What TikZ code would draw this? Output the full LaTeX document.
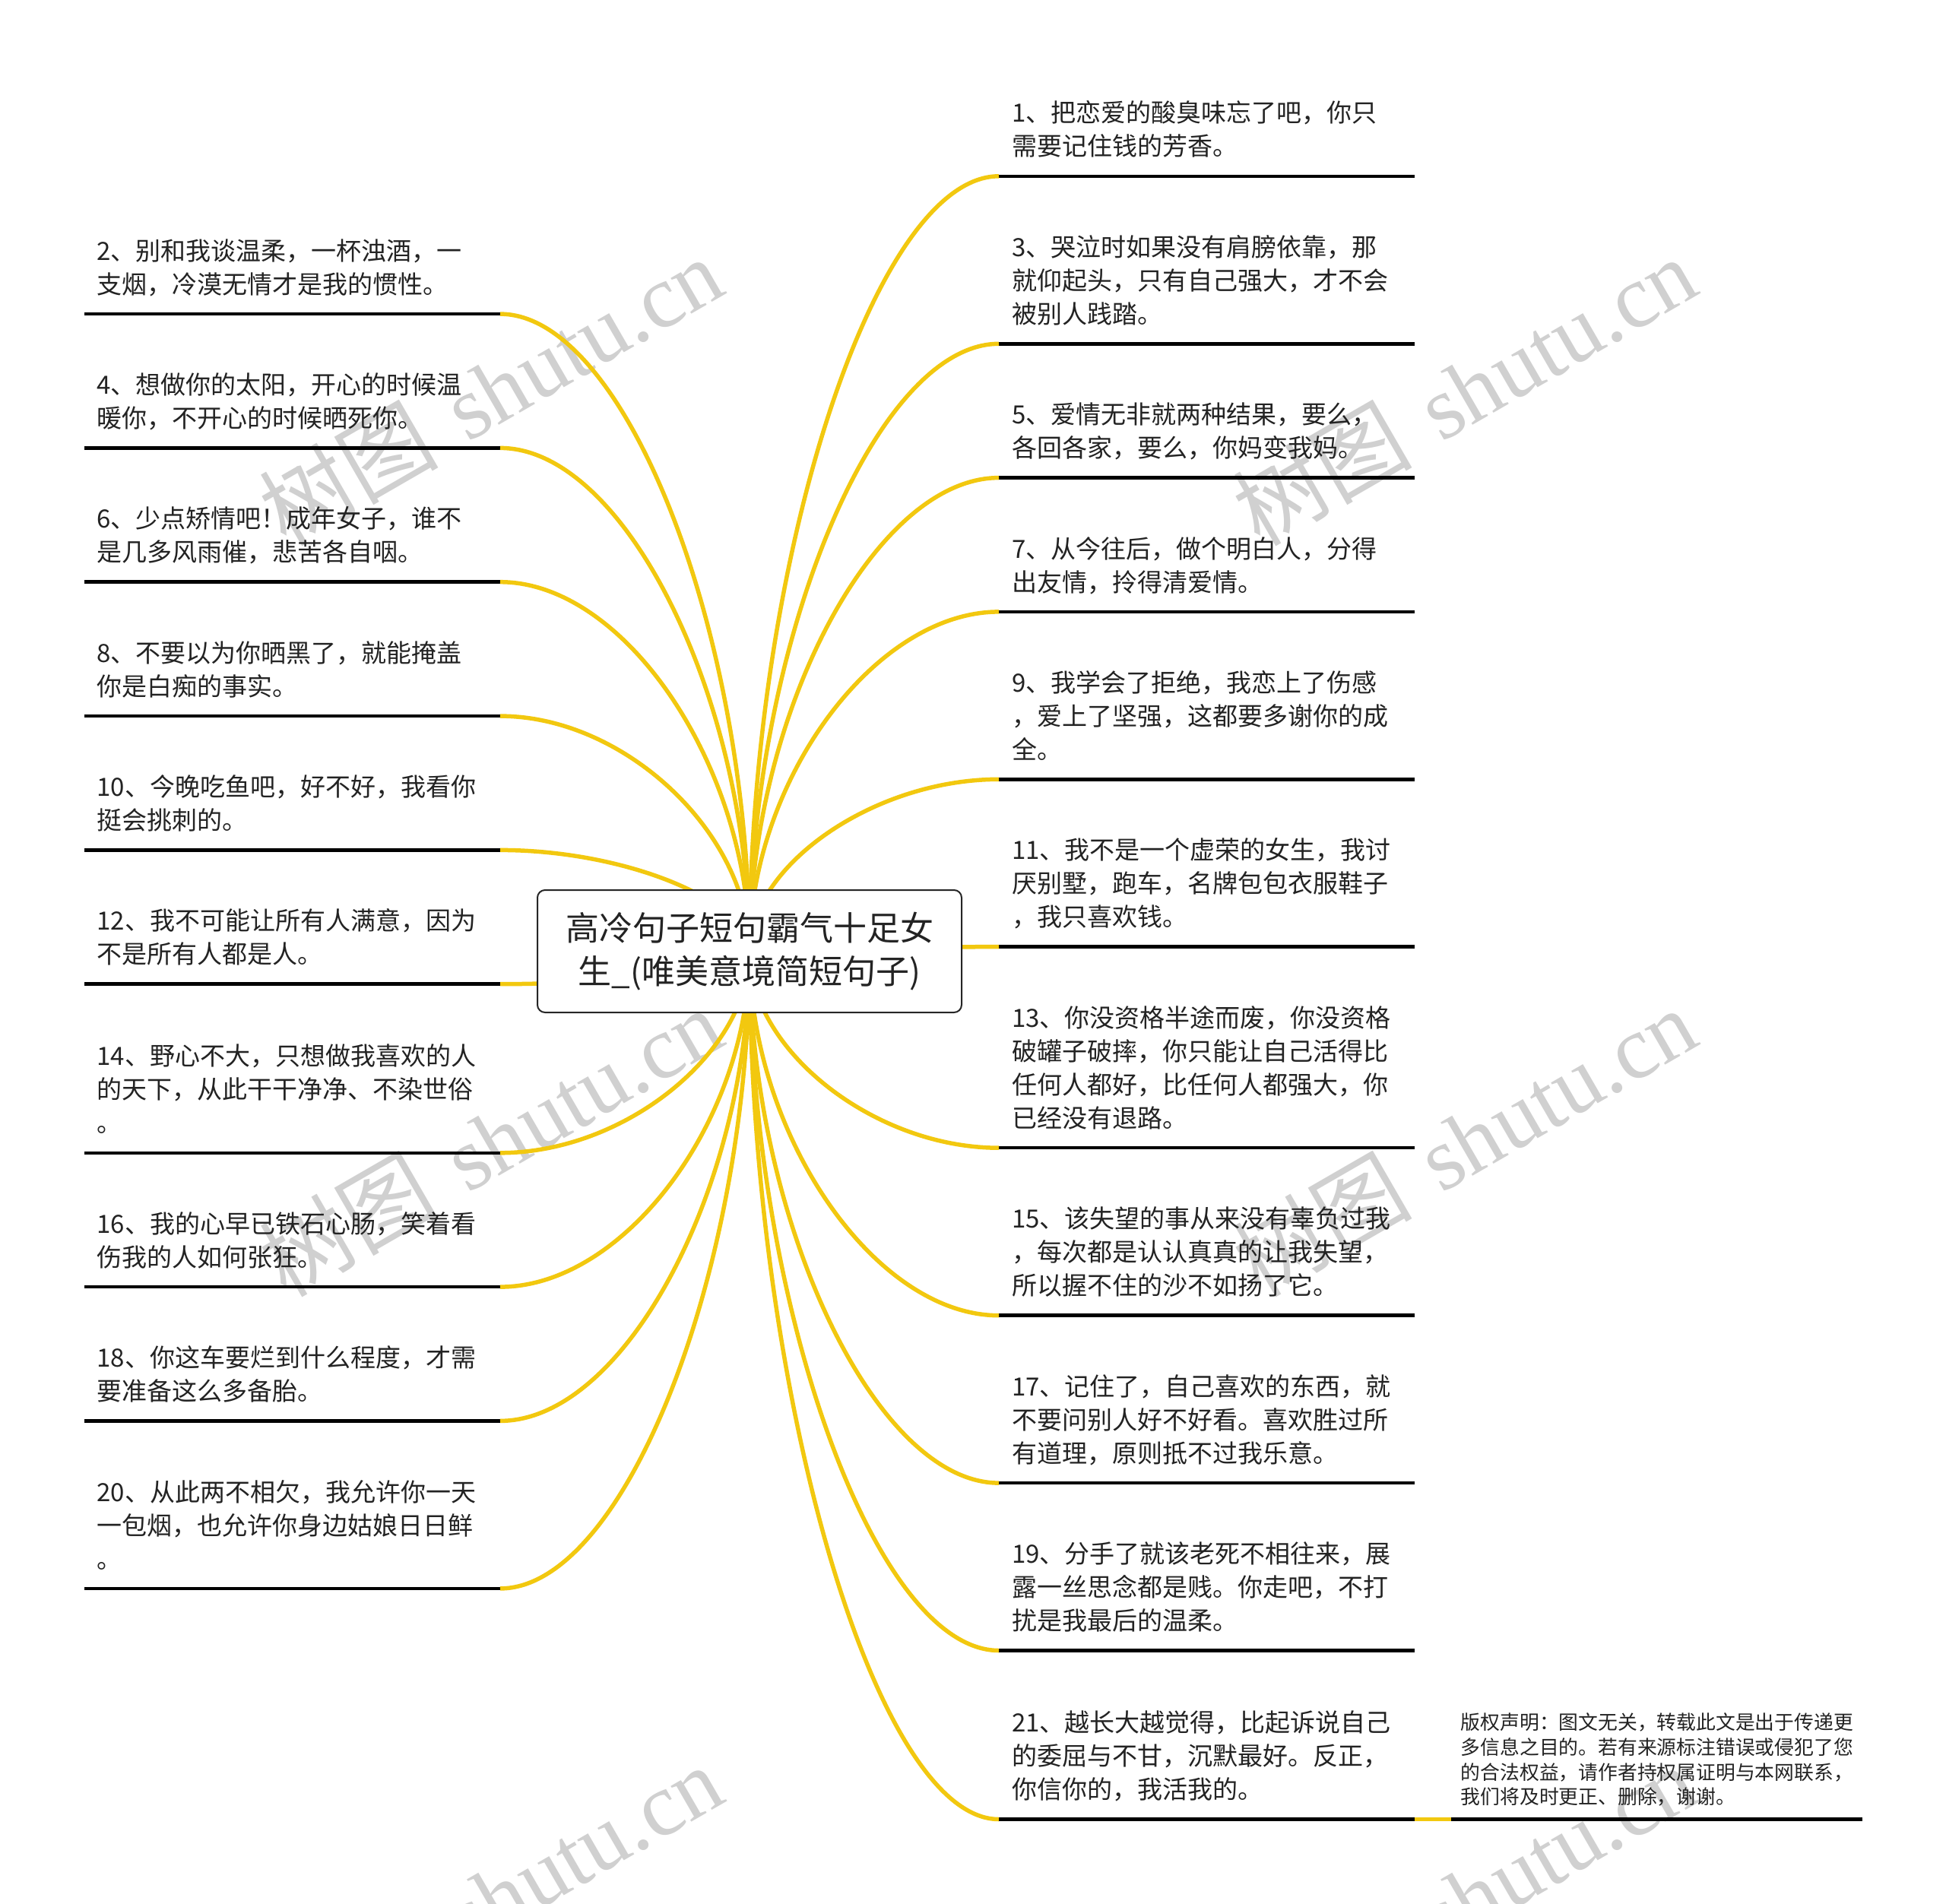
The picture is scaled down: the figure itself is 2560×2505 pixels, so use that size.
\documentclass[tikz,border=0pt]{standalone}
\usepackage{fontspec}
\setmainfont{Noto Sans CJK SC}
\newfontfamily\wmlat{Liberation Serif}
\definecolor{branch}{RGB}{242,200,15}
\definecolor{txt}{RGB}{35,35,35}
\definecolor{wm}{RGB}{208,208,208}
\newcommand{\itemtext}[1]{\parbox[b]{700pt}{\raggedright\fontsize{33}{44}\selectfont #1}}
\tikzset{
  conn/.style={draw=branch, line width=5.5pt},
  under/.style={draw=black, line width=4.5pt},
  itemnode/.style={anchor=south west, inner sep=0pt, text depth=0pt, text=txt},
  rootbox/.style={draw=black!85, line width=2pt, rounded corners=10pt, fill=white,
    minimum width=558pt, minimum height=161pt, inner sep=0pt, align=center, text=txt,
    font=\fontsize{44}{57}\selectfont},
  wmark/.style={text=wm, rotate=30, inner sep=0pt, font=\fontsize{118}{118}\selectfont}
}
\newcommand{\ritem}[3]{%
  \node[itemnode] (#1) at (1331,{#2-26.7}) {\itemtext{#3}};
  \coordinate (#1e) at (1314,#2);
  \coordinate (#1f) at (1861,#2);
  \draw[under] (#1e) -- (#1f);
  \pgfmathsetmacro\cdy{(#2-1252)/2}
  \draw[conn] (cc) .. controls +(0,\cdy) and +(-164,0) .. (#1e);
}
\newcommand{\litem}[3]{%
  \node[itemnode] (#1) at (127.4,{#2-26.7}) {\itemtext{#3}};
  \coordinate (#1e) at (658,#2);
  \coordinate (#1f) at (111,#2);
  \draw[under] (#1e) -- (#1f);
  \pgfmathsetmacro\cdy{(#2-1252)/2}
  \draw[conn] (cc) .. controls +(0,\cdy) and +(164,0) .. (#1e);
}
\begin{document}
\begin{tikzpicture}[x=1pt,y=-1pt]
\useasboundingbox[fill=white] (0,0) rectangle (2560,2505);
% watermarks
\foreach \wx/\wy [count=\i] in {645/514,1926/514,645/1502,1926/1502,645/2498,1926/2498}{
  \node[wmark] (wm\i) at (\wx,\wy) {树图\hspace{40pt}{\wmlat shutu.cn}};
}
\coordinate (cc) at (986,1252);
% right side
\ritem{r1}{231.8}{1、把恋爱的酸臭味忘了吧，你只\\需要记住钱的芳香。}
\ritem{r3}{452.3}{3、哭泣时如果没有肩膀依靠，那\\就仰起头，只有自己强大，才不会\\被别人践踏。}
\ritem{r5}{628.6}{5、爱情无非就两种结果，要么，\\各回各家，要么，你妈变我妈。}
\ritem{r7}{804.9}{7、从今往后，做个明白人，分得\\出友情，拎得清爱情。}
\ritem{r9}{1025.3}{9、我学会了拒绝，我恋上了伤感\\，爱上了坚强，这都要多谢你的成\\全。}
\ritem{r11}{1245.7}{11、我不是一个虚荣的女生，我讨\\厌别墅，跑车，名牌包包衣服鞋子\\，我只喜欢钱。}
\ritem{r13}{1510.2}{13、你没资格半途而废，你没资格\\破罐子破摔，你只能让自己活得比\\任何人都好，比任何人都强大，你\\已经没有退路。}
\ritem{r15}{1730.7}{15、该失望的事从来没有辜负过我\\，每次都是认认真真的让我失望，\\所以握不住的沙不如扬了它。}
\ritem{r17}{1951.1}{17、记住了，自己喜欢的东西，就\\不要问别人好不好看。喜欢胜过所\\有道理，原则抵不过我乐意。}
\ritem{r19}{2171.5}{19、分手了就该老死不相往来，展\\露一丝思念都是贱。你走吧，不打\\扰是我最后的温柔。}
\ritem{r21}{2393.5}{21、越长大越觉得，比起诉说自己\\的委屈与不甘，沉默最好。反正，\\你信你的，我活我的。}
% left side
\litem{l2}{413.1}{2、别和我谈温柔，一杯浊酒，一\\支烟，冷漠无情才是我的惯性。}
\litem{l4}{589.4}{4、想做你的太阳，开心的时候温\\暖你，不开心的时候晒死你。}
\litem{l6}{765.7}{6、少点矫情吧！成年女子，谁不\\是几多风雨催，悲苦各自咽。}
\litem{l8}{942.1}{8、不要以为你晒黑了，就能掩盖\\你是白痴的事实。}
\litem{l10}{1118.4}{10、今晚吃鱼吧，好不好，我看你\\挺会挑刺的。}
\litem{l12}{1294.7}{12、我不可能让所有人满意，因为\\不是所有人都是人。}
\litem{l14}{1516.8}{14、野心不大，只想做我喜欢的人\\的天下，从此干干净净、不染世俗\\。}
\litem{l16}{1693.1}{16、我的心早已铁石心肠，笑着看\\伤我的人如何张狂。}
\litem{l18}{1869.4}{18、你这车要烂到什么程度，才需\\要准备这么多备胎。}
\litem{l20}{2089.9}{20、从此两不相欠，我允许你一天\\一包烟，也允许你身边姑娘日日鲜\\。}
% copyright note
\node[itemnode] (cp) at (1921.7,2374.1) {\parbox[b]{600pt}{\raggedright\fontsize{25.8}{32.65}\selectfont 版权声明：图文无关，转载此文是出于传递更\\多信息之目的。若有来源标注错误或侵犯了您\\的合法权益，请作者持权属证明与本网联系，\\我们将及时更正、删除，谢谢。}};
\coordinate (cpe) at (1909,2393.5);
\coordinate (cpf) at (2450,2393.5);
\draw[conn] (r21f) -- (cpe);
\draw[under] (cpe) -- (cpf);
% root
\node[rootbox] (root) at (986,1251.5) {高冷句子短句霸气十足女\\生\_(唯美意境简短句子)};
\end{tikzpicture}
\end{document}
